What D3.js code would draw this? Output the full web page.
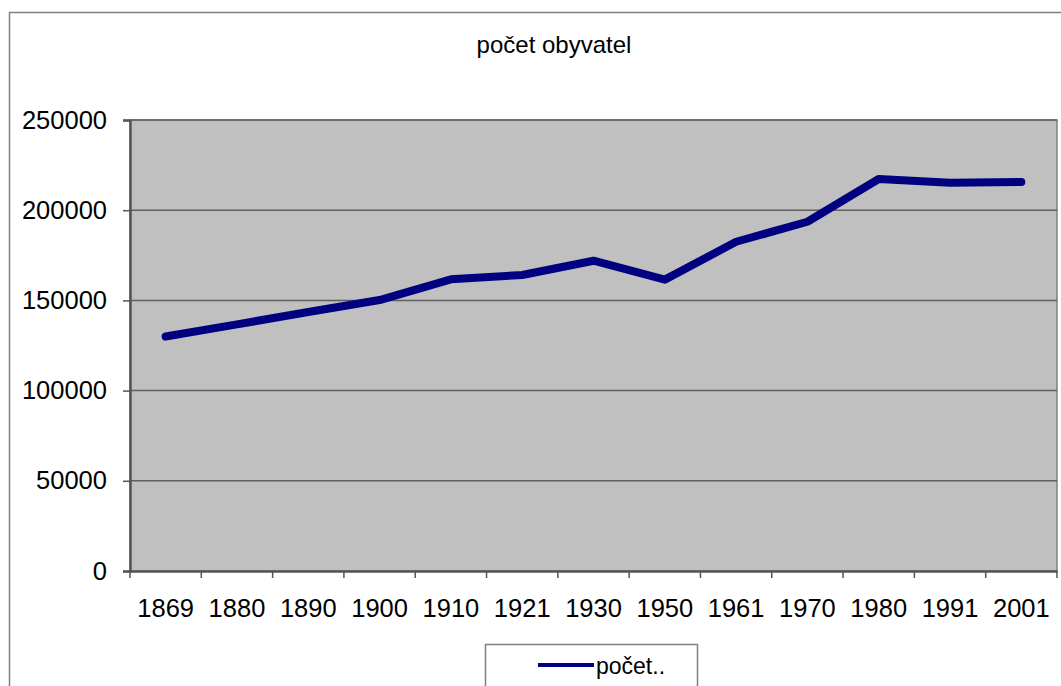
<!DOCTYPE html>
<html>
<head>
<meta charset="utf-8">
<style>
  body { margin: 0; background: #fff; }
  svg text { font-family: "Liberation Sans", Arial, sans-serif; fill: #000; }
</style>
<title>počet obyvatel</title>
</head>
<body>
<script src="https://cdn.jsdelivr.net/npm/d3@7"></script>
<script>

// data
var years = ["1869", "1880", "1890", "1900", "1910", "1921", "1930", "1950", "1961", "1970", "1980", "1991", "2001"];
var pocet = [130000, 136700, 143600, 150200, 161700, 164100, 172000, 161500, 182500, 193600, 217300, 215200, 215600];
var yTicks = [0, 50000, 100000, 150000, 200000, 250000];
var seriesName = "počet..";
var chartTitle = "počet obyvatel";

var width = 1061, height = 686;
var plot = {left: 130, right: 1057, top: 120, bottom: 571};

var svg = d3.select("body").append("svg")
    .attr("width", width)
    .attr("height", height);

// outer chart frame (runs off the page on the right and bottom)
svg.append("rect")
    .attr("x", 9.5).attr("y", 12.5)
    .attr("width", 1200).attr("height", 800)
    .attr("fill", "#fff")
    .attr("stroke", "#808080")
    .attr("stroke-width", 1.5);

var x = d3.scaleBand().domain(years).range([plot.left, plot.right]).padding(0);
var y = d3.scaleLinear().domain([0, 250000]).range([plot.bottom, plot.top]);

// plot area
svg.append("rect")
    .attr("x", plot.left).attr("y", plot.top)
    .attr("width", plot.right - plot.left)
    .attr("height", plot.bottom - plot.top)
    .attr("fill", "#c0c0c0")
    .attr("stroke", "#808080")
    .attr("stroke-width", 1.5);

// gridlines
svg.append("g")
  .selectAll("line")
  .data(yTicks.filter(function(d) { return d > 0; }))
  .enter().append("line")
    .attr("x1", plot.left).attr("x2", plot.right)
    .attr("y1", function(d) { return y(d); })
    .attr("y2", function(d) { return y(d); })
    .attr("stroke", "#606060")
    .attr("stroke-width", 1.5);

// y axis
var yAxis = svg.append("g")
    .attr("transform", "translate(" + plot.left + ",0)")
    .call(d3.axisLeft(y).tickValues(yTicks).tickSize(7).tickPadding(16).tickFormat(d3.format("d")));
yAxis.selectAll("text").style("font-size", "25.5px");

// x axis: labels centred in categories, ticks on category boundaries
var xAxis = svg.append("g")
    .attr("transform", "translate(0," + plot.bottom + ")")
    .call(d3.axisBottom(x).tickSize(0).tickPadding(28));
xAxis.selectAll("text").style("font-size", "25.5px");
xAxis.selectAll(".tick line").remove();

var bounds = years.map(function(d) { return x(d); }).concat([x.range()[1]]);
xAxis.selectAll("line.bound")
  .data(bounds)
  .enter().append("line")
    .attr("class", "bound")
    .attr("x1", function(d) { return d; })
    .attr("x2", function(d) { return d; })
    .attr("y1", 0).attr("y2", 7)
    .attr("stroke", "#555")
    .attr("stroke-width", 1.5);

[yAxis, xAxis].forEach(function(a) {
  a.select(".domain").attr("stroke", "#555").attr("stroke-width", 2.5);
  a.selectAll(".tick line").attr("stroke", "#555").attr("stroke-width", 1.5);
});

// series line
var line = d3.line()
    .x(function(d, i) { return x(years[i]) + x.bandwidth() / 2; })
    .y(function(d) { return y(d); });

svg.append("path")
    .datum(pocet)
    .attr("d", line)
    .attr("fill", "none")
    .attr("stroke", "#000080")
    .attr("stroke-width", 8)
    .attr("stroke-linejoin", "round")
    .attr("stroke-linecap", "round");

// title
svg.append("text")
    .attr("x", 554).attr("y", 53)
    .attr("text-anchor", "middle")
    .style("font-size", "24px")
    .text(chartTitle);

// legend
var legend = svg.append("g").attr("transform", "translate(485,644)");
legend.append("rect")
    .attr("x", 0.5).attr("y", 0.5)
    .attr("width", 212).attr("height", 80)
    .attr("fill", "#fff")
    .attr("stroke", "#808080")
    .attr("stroke-width", 1.5);
legend.append("line")
    .attr("x1", 53).attr("x2", 109)
    .attr("y1", 21).attr("y2", 21)
    .attr("stroke", "#000080")
    .attr("stroke-width", 4);
legend.append("text")
    .attr("x", 111).attr("y", 30)
    .style("font-size", "23px")
    .text(seriesName);

</script>
</body>
</html>
